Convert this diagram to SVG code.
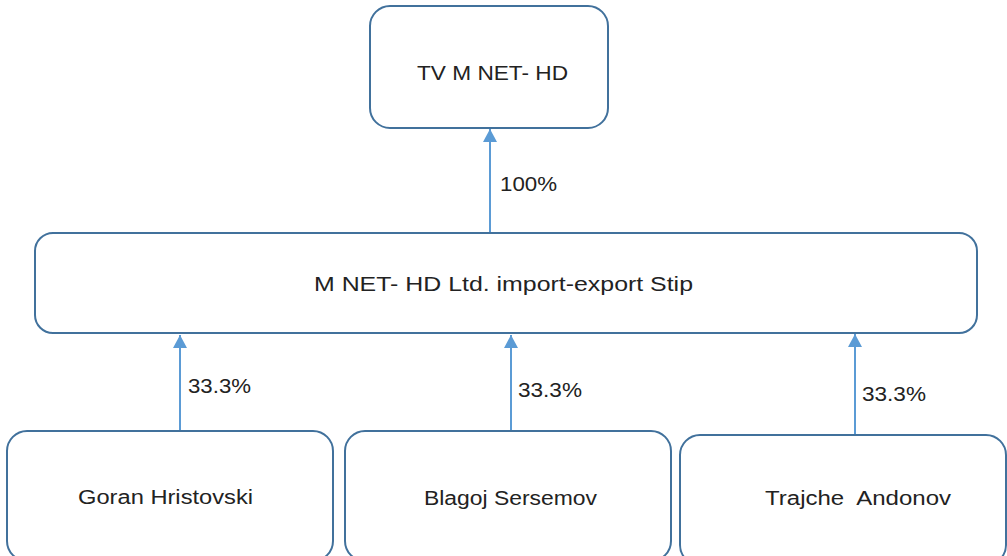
<svg xmlns="http://www.w3.org/2000/svg" width="1007" height="556" viewBox="0 0 1007 556">
<style>
.box{fill:#fff;stroke:#41719c;stroke-width:2}
.lbl{font-family:"Liberation Sans",Arial,sans-serif;font-size:20px;fill:#222}
.con{stroke:#5b9bd5;stroke-width:2;fill:none}
</style>
<defs>
<marker id="ah" markerWidth="13" markerHeight="14" refX="13" refY="7" orient="auto" markerUnits="userSpaceOnUse">
<path d="M0,0 L13,7 L0,14 Z" fill="#5b9bd5"/>
</marker>
</defs>
<rect width="1007" height="556" fill="#fff"/>
<g id="connectors">
<line class="con" x1="490" y1="233" x2="490" y2="129" marker-end="url(#ah)"/>
<line class="con" x1="180" y1="431" x2="180" y2="335" marker-end="url(#ah)"/>
<line class="con" x1="511" y1="431" x2="511" y2="335" marker-end="url(#ah)"/>
<line class="con" x1="855" y1="435" x2="855" y2="334" marker-end="url(#ah)"/>
<text class="lbl" x="500" y="191" textLength="57" lengthAdjust="spacingAndGlyphs">100%</text>
<text class="lbl" x="188" y="393" textLength="63" lengthAdjust="spacingAndGlyphs">33.3%</text>
<text class="lbl" x="518" y="397" textLength="64" lengthAdjust="spacingAndGlyphs">33.3%</text>
<text class="lbl" x="862" y="401" textLength="64" lengthAdjust="spacingAndGlyphs">33.3%</text>
</g>
<g id="tv">
<rect class="box" x="370" y="6" width="238" height="122" rx="20"/>
<text class="lbl" x="417" y="80" textLength="151" lengthAdjust="spacingAndGlyphs">TV M NET- HD</text>
</g>
<g id="company">
<rect class="box" x="35" y="233" width="942" height="100" rx="18"/>
<text class="lbl" x="314" y="291" textLength="379" lengthAdjust="spacingAndGlyphs">M NET- HD Ltd. import-export Stip</text>
</g>
<g id="goran">
<rect class="box" x="7" y="431" width="326" height="130" rx="20"/>
<text class="lbl" x="78" y="504" textLength="175" lengthAdjust="spacingAndGlyphs">Goran Hristovski</text>
</g>
<g id="blagoj">
<rect class="box" x="345" y="431" width="326" height="130" rx="20"/>
<text class="lbl" x="424" y="505" textLength="173" lengthAdjust="spacingAndGlyphs">Blagoj Sersemov</text>
</g>
<g id="trajche">
<rect class="box" x="680" y="435" width="326" height="130" rx="20"/>
<text class="lbl" x="765" y="505" textLength="186" lengthAdjust="spacingAndGlyphs">Trajche&#160; Andonov</text>
</g>
</svg>
